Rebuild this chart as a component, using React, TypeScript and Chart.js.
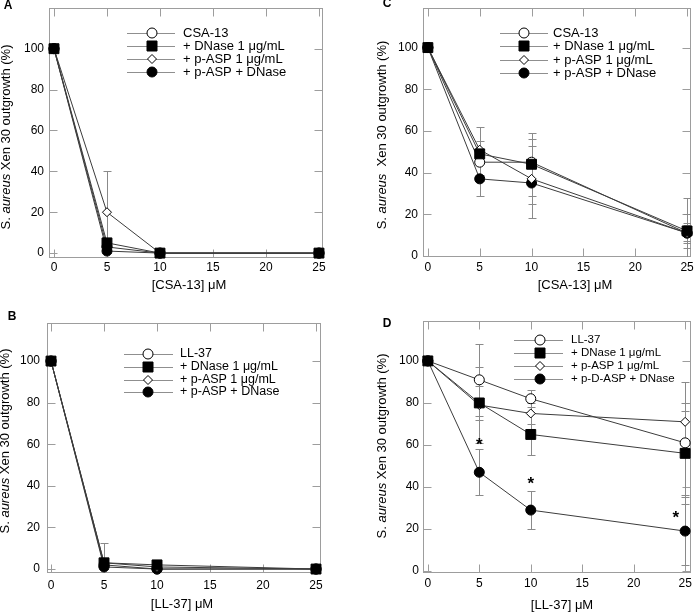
import React, { useEffect, useRef } from "react";
import { Chart, registerables } from "chart.js";

Chart.register(...registerables);

const FONT = '"Liberation Sans", Arial, Helvetica, sans-serif';

// ---------------- data ----------------
const concentrations = [0, 5, 10, 25];
const xTickValues = [0, 5, 10, 15, 20, 25];
const yTickValues = [0, 20, 40, 60, 80, 100];

const legendCsa = ["CSA-13", "+ DNase 1 μg/mL", "+ p-ASP 1 μg/mL", "+ p-ASP + DNase"];
const legendLlB = ["LL-37", "+ DNase 1 μg/mL", "+ p-ASP 1 μg/mL", "+ p-ASP + DNase"];
const legendLlD = ["LL-37", "+ DNase 1 μg/mL", "+ p-ASP 1 μg/mL", "+ p-D-ASP + DNase"];

// Panel A – CSA-13
const aPeptide = [100, 3, 0, 0];
const aDnase = [100, 5, 0, 0];
const aPasp = [100, 20, 0, 0];
const aPaspDnase = [100, 1, 0, 0];
const aPeptideErr = [0, 2, 0, 0];
const aDnaseErr = [0, 2, 0, 0];
const aPaspErr = [0, 20, 0, 0];
const aPaspDnaseErr = [0, 1, 0, 0];

// Panel B – LL-37
const bPeptide = [100, 2, 0, 0];
const bDnase = [100, 3, 2, 0];
const bPasp = [100, 3, 1, 0];
const bPaspDnase = [100, 1, 0, 0];
const bPeptideErr = [0, 2, 0, 0];
const bDnaseErr = [0, 2, 0, 0];
const bPaspErr = [0, 9.5, 0, 0];
const bPaspDnaseErr = [0, 1, 0, 0];

// Panel C – CSA-13
const cPeptide = [100, 45, 45, 11];
const cDnase = [100, 49, 44, 12];
const cPasp = [100, 51, 37, 11];
const cPaspDnase = [100, 37, 35, 11];
const cPeptideErr = [0, 6, 8, 5];
const cDnaseErr = [0, 13, 15, 8];
const cPaspErr = [0, 4, 19, 17];
const cPaspDnaseErr = [0, 8, 10, 4];

// Panel D – LL-37
const dPeptide = [100, 91, 82, 61];
const dDnase = [100, 80, 65, 56];
const dPasp = [100, 79, 75, 71];
const dPdAspDnase = [100, 47, 29, 19];
const dPeptideErr = [0, 17, 4, 29];
const dDnaseErr = [0, 8, 10, 20];
const dPaspErr = [0, 18, 5, 9];
const dPdAspDnaseErr = [0, 11, 9, 16];
const dAsteriskX = [5, 10, 24.1];
const dAsteriskY = [62.5, 44, 27.5];

// ---------------- styles ----------------
type MarkerKind = "circleOpen" | "square" | "diamond" | "circleFilled";
const MARKERS: MarkerKind[] = ["circleOpen", "square", "diamond", "circleFilled"];
const DRAW_ORDER = [4, 1, 2, 3]; // lower = drawn on top (square on top)

type Area = { left: number; right: number; top: number; bottom: number };
type PanelSpec = {
  letter: string;
  left: number;
  top: number;
  width: number;
  height: number;
  area: Area;
  xMin: number;
  xMax: number;
  yMin: number;
  yMax: number;
  labels: string[];
  series: number[][];
  errors: number[][];
  xTitle: string;
  xTitleX: number;
  xTitleY: number;
  yTitleX: number;
  yTitleY: number;
  yTitleGap: string;
  letterX: number;
  letterY: number;
  legend: { x0: number; x1: number; xm: number; xt: number; rows: number[]; font: number };
  xTickPad: number;
  yTickPad: number;
  astX: number[];
  astY: number[];
};

const panels: PanelSpec[] = [
  {
    letter: "A",
    left: 0, top: 0, width: 350, height: 300,
    area: { left: 49, right: 323, top: 6, bottom: 258 },
    xMin: -0.47, xMax: 25.38, yMin: -2.4, yMax: 119.9,
    labels: legendCsa,
    series: [aPeptide, aDnase, aPasp, aPaspDnase],
    errors: [aPeptideErr, aDnaseErr, aPaspErr, aPaspDnaseErr],
    xTitle: "[CSA-13] μM", xTitleX: 189, xTitleY: 285,
    yTitleX: 6, yTitleY: 137, yTitleGap: " ",
    letterX: 8, letterY: 6,
    legend: { x0: 127, x1: 175, xm: 152, xt: 183, rows: [33, 46, 59, 72], font: 13 },
    xTickPad: 2, yTickPad: 5,
    astX: [], astY: [],
  },
  {
    letter: "C",
    left: 350, top: 0, width: 349, height: 300,
    area: { left: 73, right: 347, top: 6, bottom: 257 },
    xMin: -0.47, xMax: 25.38, yMin: -0.5, yMax: 119,
    labels: legendCsa,
    series: [cPeptide, cDnase, cPasp, cPaspDnase],
    errors: [cPeptideErr, cDnaseErr, cPaspErr, cPaspDnaseErr],
    xTitle: "[CSA-13] μM", xTitleX: 225, xTitleY: 285,
    yTitleX: 32, yTitleY: 135, yTitleGap: "  ",
    letterX: 37, letterY: 4,
    legend: { x0: 150, x1: 198, xm: 174, xt: 203, rows: [33, 46, 60, 73], font: 13 },
    xTickPad: 3, yTickPad: 5,
    astX: [], astY: [],
  },
  {
    letter: "B",
    left: 0, top: 300, width: 350, height: 312,
    area: { left: 47, right: 321, top: 23, bottom: 273 },
    xMin: -0.38, xMax: 25.47, yMin: -1.9, yMax: 118.3,
    labels: legendLlB,
    series: [bPeptide, bDnase, bPasp, bPaspDnase],
    errors: [bPeptideErr, bDnaseErr, bPaspErr, bPaspDnaseErr],
    xTitle: "[LL-37] μM", xTitleX: 182, xTitleY: 304,
    yTitleX: 5, yTitleY: 141, yTitleGap: " ",
    letterX: 12, letterY: 17,
    legend: { x0: 124, x1: 173, xm: 148, xt: 180, rows: [54, 67, 80, 92], font: 12.5 },
    xTickPad: 5, yTickPad: 7,
    astX: [], astY: [],
  },
  {
    letter: "D",
    left: 350, top: 300, width: 349, height: 312,
    area: { left: 73, right: 348, top: 21, bottom: 273 },
    xMin: -0.47, xMax: 25.57, yMin: -0.95, yMax: 119,
    labels: legendLlD,
    series: [dPeptide, dDnase, dPasp, dPdAspDnase],
    errors: [dPeptideErr, dDnaseErr, dPaspErr, dPdAspDnaseErr],
    xTitle: "[LL-37] μM", xTitleX: 212, xTitleY: 305,
    yTitleX: 32, yTitleY: 146, yTitleGap: " ",
    letterX: 37, letterY: 24,
    legend: { x0: 164, x1: 213, xm: 190, xt: 221, rows: [40, 53, 66, 79], font: 11.5 },
    xTickPad: 3, yTickPad: 4,
    astX: dAsteriskX, astY: dAsteriskY,
  },
];

function drawMarker(ctx: CanvasRenderingContext2D, kind: MarkerKind, x: number, y: number) {
  ctx.save();
  ctx.beginPath();
  ctx.lineWidth = 1;
  ctx.strokeStyle = "#000";
  if (kind === "circleOpen" || kind === "circleFilled") {
    ctx.arc(x, y, 5, 0, Math.PI * 2);
  } else if (kind === "square") {
    ctx.rect(x - 5, y - 5, 10, 10);
  } else {
    const r = 4.5;
    ctx.moveTo(x, y - r);
    ctx.lineTo(x + r, y);
    ctx.lineTo(x, y + r);
    ctx.lineTo(x - r, y);
    ctx.closePath();
  }
  ctx.fillStyle = kind === "square" || kind === "circleFilled" ? "#000" : "#fff";
  ctx.fill();
  ctx.stroke();
  ctx.restore();
}

function makeDeco(p: PanelSpec) {
  return {
    id: "deco" + p.letter,
    beforeDatasetsDraw(chart: any) {
      const ctx: CanvasRenderingContext2D = chart.ctx;
      const a = chart.chartArea;
      const xs = chart.scales.x;
      const ys = chart.scales.y;
      ctx.save();
      ctx.strokeStyle = "#9d9d9d";
      ctx.lineWidth = 1;
      const L = Math.round(a.left) + 0.5;
      const R = Math.round(a.right) - 0.5;
      const T = Math.round(a.top) + 0.5;
      const B = Math.round(a.bottom) - 0.5;
      ctx.strokeRect(L, T, R - L, B - T);
      const TL = 8;
      ctx.beginPath();
      for (const t of xs.ticks) {
        const px = Math.round(xs.getPixelForValue(t.value)) + 0.5;
        ctx.moveTo(px, B);
        ctx.lineTo(px, B - TL);
        ctx.moveTo(px, T);
        ctx.lineTo(px, T + TL);
      }
      for (const t of ys.ticks) {
        const py = Math.round(ys.getPixelForValue(t.value)) + 0.5;
        ctx.moveTo(L, py);
        ctx.lineTo(L + TL, py);
        ctx.moveTo(R, py);
        ctx.lineTo(R - TL, py);
      }
      ctx.stroke();
      ctx.beginPath();
      ctx.rect(a.left, a.top, a.right - a.left, a.bottom - a.top);
      ctx.clip();
      ctx.strokeStyle = "#8a8a8a";
      ctx.beginPath();
      p.errors.forEach((errs, si) => {
        errs.forEach((e, i) => {
          if (!e) return;
          const v = p.series[si][i];
          const px = Math.round(xs.getPixelForValue(concentrations[i])) + 0.5;
          const yHi = Math.round(ys.getPixelForValue(v + e)) + 0.5;
          const yLo = Math.round(ys.getPixelForValue(v - e)) + 0.5;
          ctx.moveTo(px, yHi);
          ctx.lineTo(px, yLo);
          ctx.moveTo(px - 4, yHi);
          ctx.lineTo(px + 4, yHi);
          ctx.moveTo(px - 4, yLo);
          ctx.lineTo(px + 4, yLo);
        });
      });
      ctx.stroke();
      ctx.restore();
    },
    afterDraw(chart: any) {
      const ctx: CanvasRenderingContext2D = chart.ctx;
      const xs = chart.scales.x;
      const ys = chart.scales.y;
      ctx.save();
      const lg = p.legend;
      p.labels.forEach((label, i) => {
        const y = lg.rows[i];
        ctx.strokeStyle = "#8f8f8f";
        ctx.lineWidth = 1;
        ctx.beginPath();
        ctx.moveTo(lg.x0, Math.round(y) + 0.5);
        ctx.lineTo(lg.x1, Math.round(y) + 0.5);
        ctx.stroke();
        drawMarker(ctx, MARKERS[i], lg.xm, y);
        ctx.fillStyle = "#000";
        ctx.font = lg.font + "px " + FONT;
        ctx.textAlign = "left";
        ctx.textBaseline = "middle";
        ctx.fillText(label, lg.xt, y);
      });
      ctx.fillStyle = "#000";
      ctx.font = "13px " + FONT;
      ctx.textAlign = "center";
      ctx.textBaseline = "middle";
      ctx.fillText(p.xTitle, p.xTitleX, p.xTitleY);
      const segs = [
        { t: "S. ", it: false },
        { t: "aureus", it: true },
        { t: p.yTitleGap + "Xen 30 outgrowth (%)", it: false },
      ];
      let total = 0;
      const widths = segs.map((s) => {
        ctx.font = (s.it ? "italic " : "") + "13px " + FONT;
        const w = ctx.measureText(s.t).width;
        total += w;
        return w;
      });
      ctx.save();
      ctx.translate(p.yTitleX, p.yTitleY);
      ctx.rotate(-Math.PI / 2);
      ctx.textAlign = "left";
      ctx.textBaseline = "middle";
      let cx = -total / 2;
      segs.forEach((s, i) => {
        ctx.font = (s.it ? "italic " : "") + "13px " + FONT;
        ctx.fillText(s.t, cx, 0);
        cx += widths[i];
      });
      ctx.restore();
      ctx.font = "bold 12px " + FONT;
      ctx.textAlign = "center";
      ctx.textBaseline = "middle";
      ctx.fillText(p.letter, p.letterX, p.letterY);
      ctx.font = "bold 17px " + FONT;
      ctx.textAlign = "center";
      ctx.textBaseline = "alphabetic";
      p.astX.forEach((xv, i) => {
        const px = xs.getPixelForValue(xv);
        const py = ys.getPixelForValue(p.astY[i]);
        ctx.fillText("*", px, py + 10);
      });
      ctx.restore();
    },
  };
}

function buildConfig(p: PanelSpec): any {
  const tickFont = { family: FONT, size: 12 };
  return {
    type: "line",
    data: {
      datasets: p.series.map((vals, si) => {
        const kind = MARKERS[si];
        const filled = kind === "square" || kind === "circleFilled";
        const style = kind === "square" ? "rect" : kind === "diamond" ? "rectRot" : "circle";
        const r = kind === "square" ? 7 : kind === "diamond" ? 4.5 : 5;
        return {
          label: p.labels[si],
          data: concentrations.map((x, i) => ({ x, y: vals[i] })),
          borderColor: "#3c3c3c",
          borderWidth: 1,
          pointStyle: style,
          pointRadius: r,
          pointBackgroundColor: filled ? "#000" : "#fff",
          pointBorderColor: "#000",
          pointBorderWidth: 1,
          order: DRAW_ORDER[si],
          clip: false,
          fill: false,
          tension: 0,
        };
      }),
    },
    options: {
      animation: false,
      responsive: false,
      events: [],
      layout: {
        padding: {
          left: 0,
          top: p.area.top,
          right: p.width - p.area.right,
          bottom: 0,
        },
      },
      plugins: { legend: { display: false }, tooltip: { enabled: false } },
      scales: {
        x: {
          type: "linear",
          min: p.xMin,
          max: p.xMax,
          grid: { display: false, drawTicks: false },
          border: { display: false },
          ticks: { font: tickFont, color: "#000", padding: p.xTickPad, autoSkip: false, maxRotation: 0 },
          afterBuildTicks: (s: any) => {
            s.ticks = xTickValues.map((value) => ({ value }));
          },
          afterFit: (s: any) => {
            s.height = p.height - p.area.bottom;
            s.paddingLeft = 0;
            s.paddingRight = 0;
          },
        },
        y: {
          type: "linear",
          min: p.yMin,
          max: p.yMax,
          grid: { display: false, drawTicks: false },
          border: { display: false },
          ticks: { font: tickFont, color: "#000", padding: p.yTickPad, autoSkip: false },
          afterBuildTicks: (s: any) => {
            s.ticks = yTickValues.map((value) => ({ value }));
          },
          afterFit: (s: any) => {
            s.width = p.area.left;
            s.paddingTop = 0;
            s.paddingBottom = 0;
          },
        },
      },
    },
    plugins: [makeDeco(p)],
  };
}

function Panel({ spec }: { spec: PanelSpec }) {
  const ref = useRef<HTMLCanvasElement>(null);
  useEffect(() => {
    const chart = new Chart(ref.current as HTMLCanvasElement, buildConfig(spec));
    return () => chart.destroy();
  }, [spec]);
  return (
    <canvas
      ref={ref}
      width={spec.width}
      height={spec.height}
      style={{
        position: "absolute",
        left: spec.left,
        top: spec.top,
        width: spec.width,
        height: spec.height,
      }}
    />
  );
}

export default function App() {
  return (
    <div
      style={{
        position: "absolute",
        left: 0,
        top: 0,
        width: 699,
        height: 612,
        background: "#fff",
        overflow: "hidden",
      }}
    >
      {panels.map((p) => (
        <Panel key={p.letter} spec={p} />
      ))}
    </div>
  );
}
